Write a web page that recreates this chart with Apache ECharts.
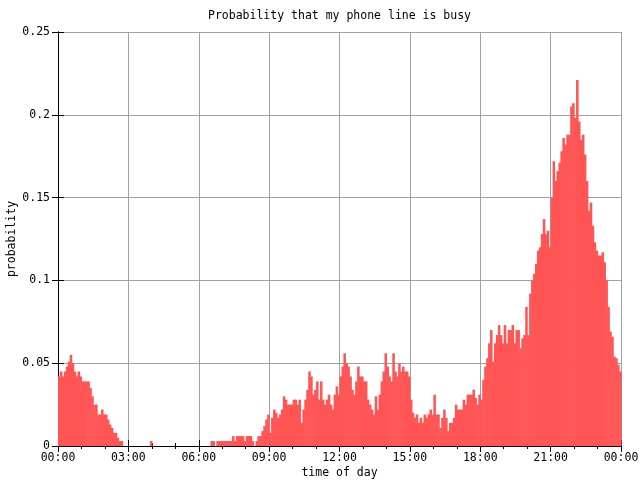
<!DOCTYPE html>
<html><head><meta charset="utf-8">
<script src="https://cdn.jsdelivr.net/npm/echarts@6/dist/echarts.min.js"></script>
<style>html,body{margin:0;padding:0;background:#fff}#c{width:640px;height:480px}</style>
</head><body><div id="c"></div>
<script>
// 5-minute bins across the day (288 bins)
const binMinutes = 5;
const xTickLabels = ['00:00','03:00','06:00','09:00','12:00','15:00','18:00','21:00','00:00'];
const yTicks = [0, 0.05, 0.1, 0.15, 0.2, 0.25];
const busyNight = [ // bins 0-32 (00:00-02:45)
  0.042,0.045,0.042,0.045,0.048,0.051,0.055,0.050,0.045,0.042,
  0.045,0.042,0.039,0.039,0.039,0.039,0.035,0.030,0.025,0.025,
  0.019,0.019,0.022,0.019,0.019,0.016,0.013,0.011,0.008,0.008,
  0.005,0.003,0.003
];
const busyEarly = [ // bins 33-77
  0,0,0,0,0,0,0,0,0,0,0,0,0,0,
  0.003,
  0,0,0,0,0,0,0,0,0,0,0,0,0,0,0,0,0,0,0,0,0,0,0,0,0,0,0,0,0,0
];
const busyMorning = [ // bins 78-143
  0.003,0.003,0,0.003,0.003,0.003,0.003,0.003,0.003,0.003,
  0.003,0.006,0.003,0.006,0.006,0.006,0.006,0.003,0.006,0.006,
  0.006,0.003,0,0.003,0.006,0.006,0.009,0.012,0.016,0.019,
  0.008,0.017,0.022,0.020,0.017,0.019,0.022,0.030,0.028,0.025,
  0.025,0.025,0.028,0.028,0.025,0.028,0.014,0.022,0.028,0.034,
  0.045,0.042,0.031,0.034,0.039,0.028,0.039,0.028,0.025,0.028,
  0.031,0.025,0.022,0.031,0.036,0.031
];
const busyAfternoon = [ // bins 144-216
  0.042,0.048,0.056,0.050,0.048,0.042,0.034,0.031,0.039,0.048,
  0.042,0.042,0.039,0.039,0.028,0.025,0.022,0.019,0.030,0.022,
  0.031,0.039,0.045,0.056,0.048,0.042,0.039,0.056,0.045,0.042,
  0.050,0.045,0.048,0.045,0.045,0.042,0.028,0.020,0.017,0.019,
  0.014,0.017,0.014,0.019,0.017,0.019,0.022,0.019,0.031,0.019,
  0.019,0.011,0.017,0.022,0.017,0.009,0.014,0.014,0.017,0.025,
  0.022,0.022,0.022,0.028,0.025,0.031,0.031,0.031,0.034,0.029,
  0.025,0.031,0.028
];
const busyEvening = [ // bins 217-287
  0.040,0.048,0.053,0.062,0.070,0.051,0.062,0.067,0.073,0.067,
  0.062,0.073,0.062,0.070,0.070,0.073,0.062,0.070,0.070,0.059,
  0.065,0.067,0.084,0.067,0.092,0.100,0.104,0.110,0.118,0.120,
  0.128,0.137,0.128,0.130,0.120,0.150,0.172,0.160,0.166,0.171,
  0.178,0.186,0.182,0.188,0.188,0.205,0.207,0.198,0.221,0.196,
  0.185,0.188,0.176,0.160,0.142,0.147,0.133,0.123,0.118,0.115,
  0.115,0.117,0.111,0.100,0.084,0.069,0.066,0.054,0.053,0.049,
  0.045
];
const busyProb = [].concat(busyNight, busyEarly, busyMorning, busyAfternoon, busyEvening);
const seriesData = busyProb.map((v, i) => [i * binMinutes, v]);

const FONT = 'DejaVu Sans Mono';
const FS = 11.5;
const black = '#000';
const gridGray = '#a0a0a0';
const fillRed = '#ff5555';

const chart = echarts.init(document.getElementById('c'), null, {renderer: 'canvas'});
chart.setOption({
  animation: false,
  backgroundColor: '#fff',
  title: {
    text: 'Probability that my phone line is busy',
    left: 339.5, top: 10, textAlign: 'center', padding: 0,
    textStyle: {fontFamily: FONT, fontSize: FS, fontWeight: 'normal', color: black}
  },
  grid: {left: 58, right: 19, top: 32, bottom: 34, containLabel: false, outerBoundsMode: 'none'},
  xAxis: [{
    type: 'value', min: 0, max: 1440, interval: 180, position: 'bottom',
    axisLine: {show: true, lineStyle: {color: black, width: 1}},
    axisTick: {show: true, inside: true, length: 6, lineStyle: {color: black}},
    minorTick: {show: true, splitNumber: 3, length: 3, lineStyle: {color: black}},
    splitLine: {show: true, lineStyle: {color: gridGray, width: 1}},
    axisLabel: {formatter: v => xTickLabels[Math.round(v / 180)], fontFamily: FONT, fontSize: FS, color: black, margin: 6},
    name: 'time of day', nameLocation: 'middle', nameGap: 21, nameMoveOverlap: false,
    nameTextStyle: {fontFamily: FONT, fontSize: FS, color: black}
  }, {
    type: 'value', min: 0, max: 1440, interval: 180, position: 'top',
    axisLine: {show: true, lineStyle: {color: black, width: 1}},
    axisTick: {show: true, inside: true, length: 6, lineStyle: {color: black}},
    minorTick: {show: true, splitNumber: 3, length: 3, lineStyle: {color: black}},
    splitLine: {show: false}, axisLabel: {show: false}
  }],
  yAxis: [{
    type: 'value', min: 0, max: 0.25, interval: 0.05, position: 'left',
    axisLine: {show: true, lineStyle: {color: black, width: 1}},
    axisTick: {show: true, inside: true, length: 6, lineStyle: {color: black}},
    splitLine: {show: true, lineStyle: {color: gridGray, width: 1}},
    axisLabel: {formatter: v => String(yTicks[Math.round(v / 0.05)]), fontFamily: FONT, fontSize: FS, color: black, margin: 8},
    name: 'probability', nameLocation: 'middle', nameGap: 40, nameRotate: 90, nameMoveOverlap: false,
    nameTextStyle: {fontFamily: FONT, fontSize: FS, color: black}
  }, {
    type: 'value', min: 0, max: 0.25, interval: 0.05, position: 'right',
    axisLine: {show: true, lineStyle: {color: black, width: 1}},
    axisTick: {show: true, inside: true, length: 6, lineStyle: {color: black}},
    splitLine: {show: false}, axisLabel: {show: false}
  }],
  series: [{
    type: 'custom', data: seriesData, xAxisIndex: 0, yAxisIndex: 0,
    silent: true, encode: {x: 0, y: 1},
    renderItem: function (params, api) {
      const x0 = api.value(0), v = api.value(1);
      if (!v) return null;
      const top = api.coord([x0, v]);
      const bot = api.coord([x0 + binMinutes, 0]);
      return {
        type: 'rect',
        shape: {x: top[0], y: top[1], width: bot[0] - top[0] + 0.6, height: bot[1] - top[1]},
        style: {fill: fillRed, stroke: null}
      };
    }
  }]
});
</script>
</body></html>
